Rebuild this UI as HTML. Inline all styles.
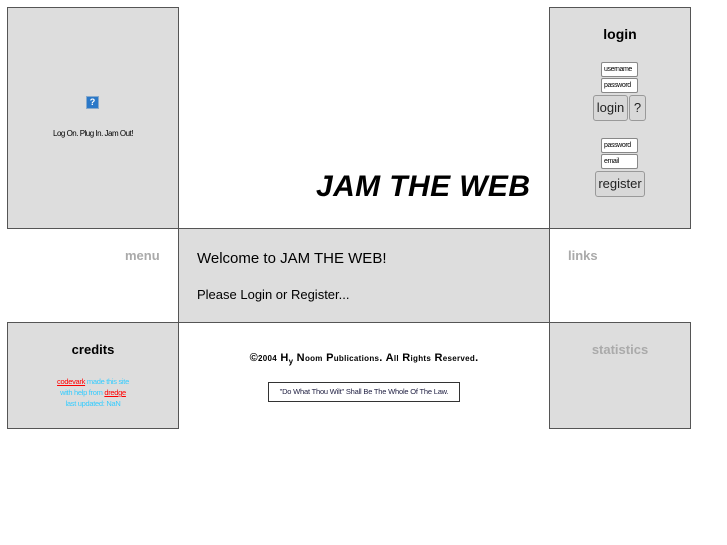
<!DOCTYPE html>
<html><head><style>
body{margin:0;width:727px;height:545px;background:#fff;font-family:"Liberation Sans",sans-serif;position:relative;overflow:hidden}
.b{position:absolute;background:#ddd;border:1px solid #555;box-sizing:border-box}
.a{position:absolute}
.in{position:absolute;background:#fff;border:1px solid #888;border-radius:2px;font-size:7px;height:15px;box-sizing:border-box;line-height:13px;padding-left:2px;letter-spacing:-0.4px}
.btn{position:absolute;background:#d8d8d8;border:1px solid #999;border-radius:3px;box-sizing:border-box;text-align:center;color:#222}
</style></head><body>
<div class="b" style="left:7px;top:7px;width:172px;height:222px"></div>
<div class="a" style="left:86px;top:96px;width:13px;height:13px;background:#2a78c8;border:1px solid #8ac;box-sizing:border-box;color:#fff;font-size:9px;text-align:center;line-height:11px;font-weight:bold">?</div>
<div class="a" style="left:7px;top:129px;width:172px;text-align:center;font-size:8px;letter-spacing:-0.5px">Log On. Plug In. Jam Out!</div>

<div class="b" style="left:549px;top:7px;width:142px;height:222px"></div>
<div class="a" style="left:549px;top:26px;width:142px;text-align:center;font-size:14px;font-weight:bold">login</div>
<div class="in" style="left:601px;top:62px;width:37px">username</div>
<div class="in" style="left:601px;top:78px;width:37px">password</div>
<div class="btn" style="left:593px;top:95px;width:35px;height:26px;font-size:13px;line-height:24px">login</div>
<div class="btn" style="left:629px;top:95px;width:17px;height:26px;font-size:13px;line-height:24px">?</div>
<div class="in" style="left:601px;top:138px;width:37px">password</div>
<div class="in" style="left:601px;top:154px;width:37px">email</div>
<div class="btn" style="left:595px;top:171px;width:50px;height:26px;font-size:13px;line-height:24px">register</div>

<div class="a" style="left:316px;top:170px;font-size:30px;font-weight:bold;font-style:italic;letter-spacing:0.4px">JAM THE WEB</div>

<div class="a" style="left:125px;top:248px;font-size:13px;font-weight:bold;color:#aaa">menu</div>
<div class="a" style="left:568px;top:248px;font-size:13px;font-weight:bold;color:#aaa">links</div>
<div class="b" style="left:178px;top:228px;width:372px;height:95px"></div>
<div class="a" style="left:197px;top:250px;font-size:15px">Welcome to JAM THE WEB!</div>
<div class="a" style="left:197px;top:287px;font-size:13px">Please Login or Register...</div>

<div class="b" style="left:7px;top:322px;width:172px;height:107px"></div>
<div class="a" style="left:7px;top:342px;width:172px;text-align:center;font-size:13px;font-weight:bold">credits</div>
<div class="a" style="left:7px;top:376px;width:172px;text-align:center;font-size:7.5px;line-height:11px;color:#3cf;letter-spacing:-0.3px"><u style="color:#f00">codevark</u> made this site<br>with help from <u style="color:#f00">dredge</u><br>last updated: NaN</div>

<div class="a" style="left:178px;top:352px;width:372px;text-align:center;font-size:11px;font-weight:bold;letter-spacing:0.3px">©<small style="font-size:8px">2004</small> H<sub style="font-size:8px">y</sub> N<small style="font-size:8px">oom</small> P<small style="font-size:8px">ublications</small>. A<small style="font-size:8px">ll</small> R<small style="font-size:8px">ights</small> R<small style="font-size:8px">eserved</small>.</div>
<div class="a" style="left:268px;top:382px;width:192px;height:20px;border:1px solid #333;box-sizing:border-box;text-align:center;font-size:7.5px;line-height:18px;color:#224;letter-spacing:-0.2px">"Do What Thou Wilt" Shall Be The Whole Of The Law.</div>

<div class="b" style="left:549px;top:322px;width:142px;height:107px"></div>
<div class="a" style="left:549px;top:342px;width:142px;text-align:center;font-size:13px;font-weight:bold;color:#aaa">statistics</div>
</body></html>
